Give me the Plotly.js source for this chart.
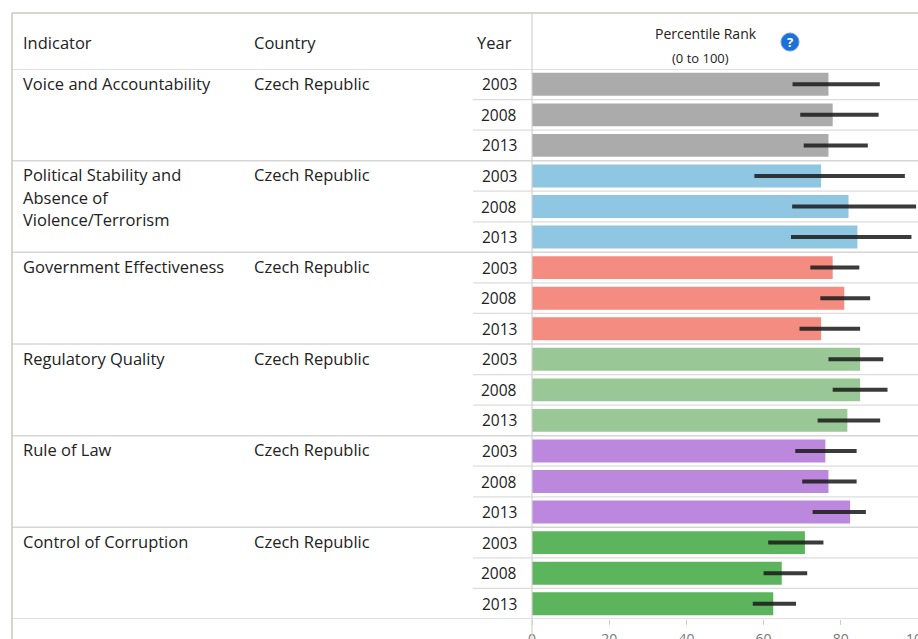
<!DOCTYPE html>
<html><head><meta charset="utf-8">
<script src="https://cdn.plot.ly/plotly-3.0.1.min.js"></script>
<style>html,body{margin:0;padding:0;background:#fff}#chart{width:918px;height:639px}</style>
</head><body><div id="chart"></div>
<script>
// ---- data ----
const indicators = ["Voice and Accountability", "Political Stability and<br>Absence of<br>Violence/Terrorism", "Government Effectiveness", "Regulatory Quality", "Rule of Law", "Control of Corruption"];
const country = "Czech Republic";
const years = ["2003", "2008", "2013"];
const rankValues = [[76.8, 77.9, 76.8], [74.9, 82.0, 84.3], [77.9, 80.9, 74.9], [85.0, 85.0, 81.7], [76.0, 76.8, 82.4], [70.7, 64.7, 62.5]];
const lowerBound = [[67.5, 69.5, 70.4], [57.6, 67.4, 67.1], [72.1, 74.7, 69.3], [76.8, 77.9, 74.0], [68.2, 70.0, 72.7], [61.2, 60.0, 57.2]];
const upperBound = [[90.1, 89.8, 87.0], [96.6, 99.5, 98.3], [84.8, 87.6, 85.0], [91.0, 92.1, 90.2], [84.1, 84.1, 86.5], [75.5, 71.3, 68.4]];
const xTicks = [0, 20, 40, 60, 80, 100];
const headerLabels = ["Indicator", "Country", "Year", "Percentile Rank<br>(0 to 100)"];

// ---- styles ----
const barColors = ["#ababab", "#8fc6e2", "#f48c82", "#99c795", "#bb88de", "#5cb55c"];
const W = 918, H = 639, L = 532, R = 0, T = 69, B = 20;
const px2x = px => (px - L) / (W - L - R);
const py2y = py => (H - B - py) / (H - T - B);
const FONT = "Open Sans, Noto Sans, sans-serif";
const textColor = "#222222";
const TXT = 16.5;

const nRows = indicators.length * years.length;
const traces = [];
const annotations = [];
const shapes = [];

indicators.forEach((ind, g) => {
  const ys = years.map((_, i) => g * years.length + i);
  traces.push({
    type: "bar", orientation: "h",
    x: rankValues[g], y: ys,
    width: 0.75,
    marker: {color: barColors[g], line: {width: 0}},
    error_x: {
      type: "data", symmetric: false,
      array: rankValues[g].map((v, i) => upperBound[g][i] - v),
      arrayminus: rankValues[g].map((v, i) => v - lowerBound[g][i]),
      thickness: 4, width: 0, color: "rgba(25,25,25,0.85)"
    },
    hoverinfo: "skip", showlegend: false
  });
  ind.split("<br>").forEach((line, li) => {
    annotations.push({xref: "paper", yref: "y", x: px2x(21), y: ys[0], xanchor: "left", yanchor: "middle",
      yshift: 1 - li * 22.5, text: line, showarrow: false, font: {family: FONT, size: TXT, color: textColor}});
  });
  annotations.push({xref: "paper", yref: "y", x: px2x(252), y: ys[0], xanchor: "left", yanchor: "middle",
    yshift: 1, text: country, showarrow: false, font: {family: FONT, size: TXT, color: textColor}});
  years.forEach((yr, i) => {
    annotations.push({xref: "paper", yref: "y", x: px2x(519), y: ys[i], xanchor: "right", yanchor: "middle",
      text: yr, showarrow: false, font: {family: FONT, size: 15.5, color: textColor}});
  });
  ys.forEach((y, i) => {
    if (i > 0) shapes.push({type: "line", xref: "paper", yref: "y", x0: px2x(473), x1: 1, y0: y - 0.5, y1: y - 0.5,
      line: {color: "#dcdcdc", width: 1.2}});
  });
  shapes.push({type: "line", xref: "paper", yref: "y", x0: px2x(12), x1: 1, y0: ys[0] - 0.5, y1: ys[0] - 0.5,
    line: {color: "#d6d6d6", width: 1.5}});
});
shapes.push({type: "line", xref: "paper", yref: "y", x0: px2x(12), x1: 1, y0: nRows - 0.5, y1: nRows - 0.5,
  line: {color: "#d6d6d6", width: 1.5}});
// table frame
shapes.push({type: "line", xref: "paper", yref: "paper", x0: px2x(12), x1: px2x(12), y0: py2y(13), y1: py2y(640),
  line: {color: "#c9c9c2", width: 1.5}});
shapes.push({type: "line", xref: "paper", yref: "paper", x0: px2x(12), x1: 1, y0: py2y(13), y1: py2y(13),
  line: {color: "#c9c9c2", width: 1.5}});
shapes.push({type: "line", xref: "paper", yref: "paper", x0: 0, x1: 0, y0: py2y(13), y1: py2y(640),
  line: {color: "#d2d2d2", width: 1.2}});
// help icon
shapes.push({type: "circle", xref: "paper", yref: "paper", x0: px2x(781), x1: px2x(799), y0: py2y(51), y1: py2y(33),
  fillcolor: "#1f6fd8", line: {color: "#5a9be8", width: 1}});
annotations.push({xref: "paper", yref: "paper", x: px2x(790), y: py2y(42), xanchor: "center", yanchor: "middle",
  text: "<b>?</b>", showarrow: false, font: {family: FONT, size: 13, color: "#ffffff"}});

const hdr = (text, px, anchor, py, size) => annotations.push({xref: "paper", yref: "paper", x: px2x(px), y: py2y(py),
  xanchor: anchor, yanchor: "middle", text: text, showarrow: false, align: "center",
  font: {family: FONT, size: size, color: textColor}});
hdr(headerLabels[0], 21, "left", 42, TXT);
hdr(headerLabels[1], 252, "left", 42, TXT);
hdr(headerLabels[2], 514, "right", 42, TXT);
hdr(headerLabels[3].split("<br>")[0], 706, "center", 33, 14);
hdr(headerLabels[3].split("<br>")[1], 700, "center", 58, 13);

const layout = {
  width: W, height: H,
  margin: {l: L, r: R, t: T, b: B, pad: 0},
  paper_bgcolor: "#ffffff", plot_bgcolor: "#ffffff",
  barmode: "overlay",
  xaxis: {range: [0, 100], tickvals: xTicks, ticktext: xTicks.map(String), showgrid: false, zeroline: false,
    showline: false, ticks: "outside", ticklen: 5, tickcolor: "#cccccc", tickwidth: 1,
    ticklabelstandoff: 2, ticklabeloverflow: "allow",
    tickfont: {family: FONT, size: 14, color: "#777777"}, fixedrange: true},
  yaxis: {range: [nRows - 0.5, -0.5], showticklabels: false, showgrid: false, zeroline: false, showline: false,
    ticks: "", fixedrange: true},
  shapes: shapes, annotations: annotations,
  hovermode: false
};
Plotly.newPlot("chart", traces, layout, {staticPlot: true, displayModeBar: false});
</script></body></html>
